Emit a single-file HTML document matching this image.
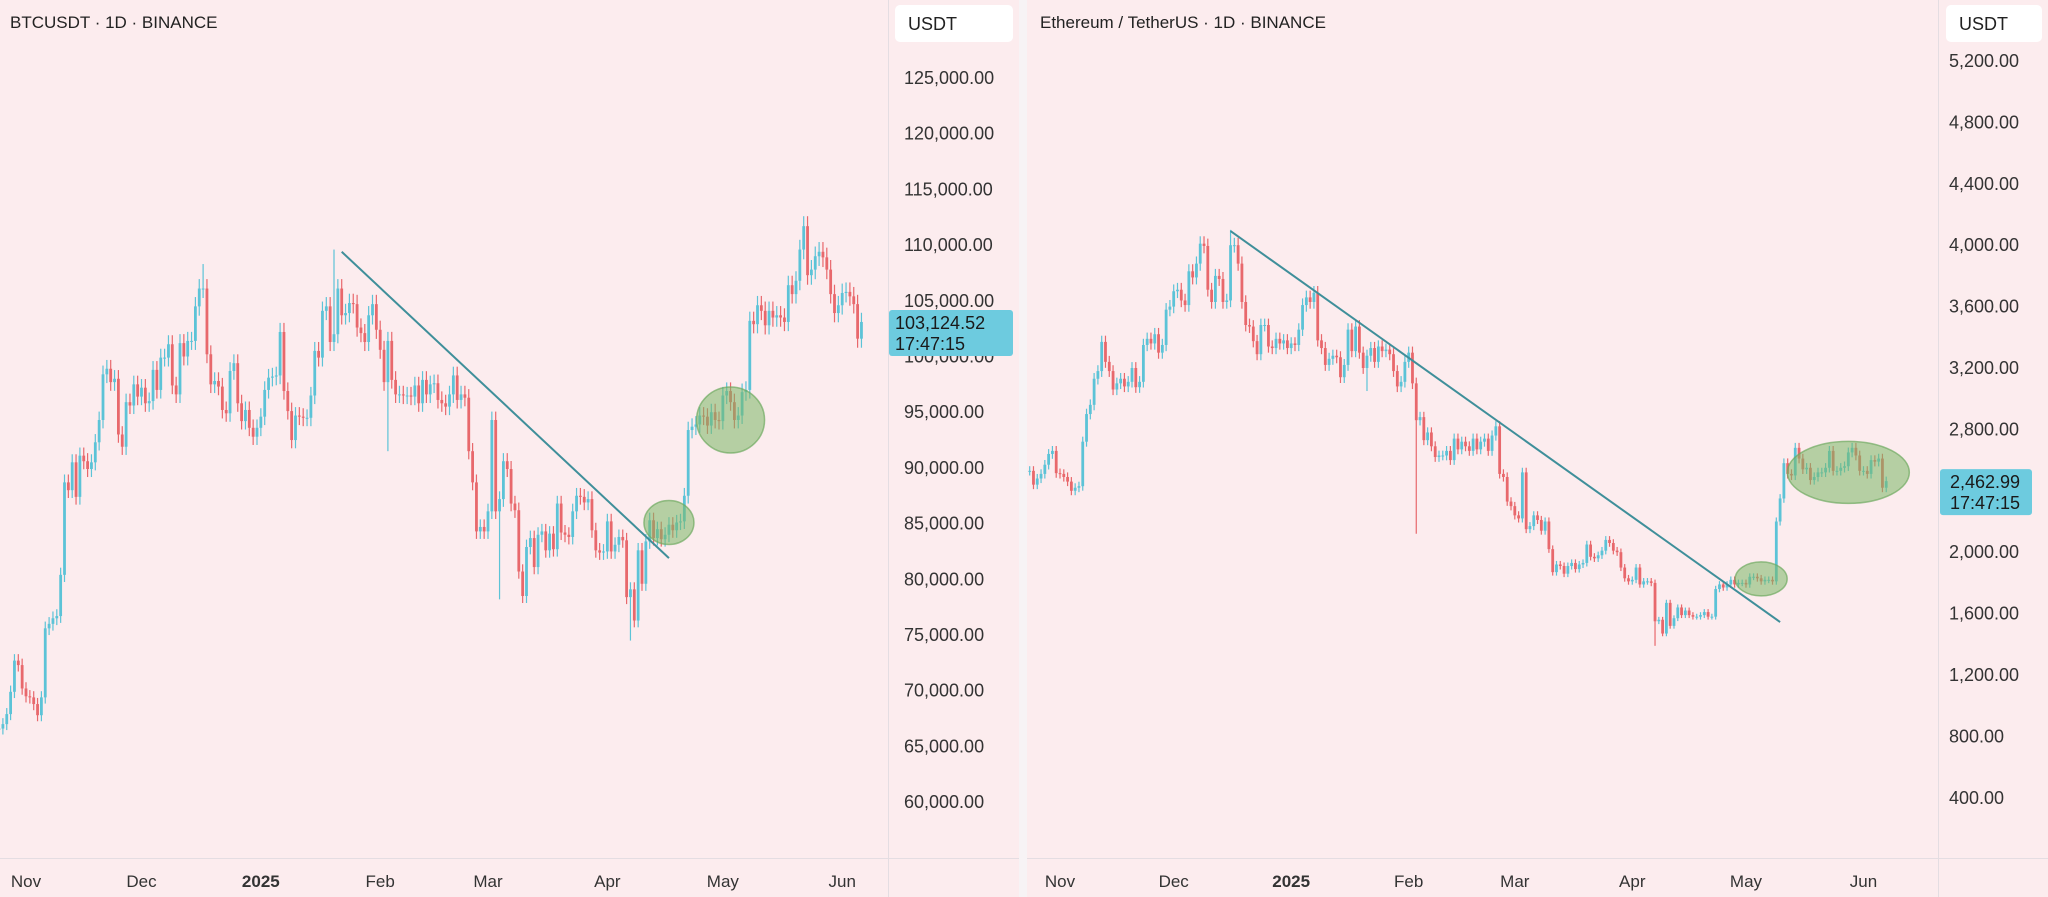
<!DOCTYPE html>
<html><head><meta charset="utf-8">
<style>
html,body{margin:0;padding:0;background:#fcecee;}
svg{display:block;font-family:"Liberation Sans",sans-serif;}
</style></head>
<body>
<svg id="c" width="2048" height="897" viewBox="0 0 2048 897" xmlns="http://www.w3.org/2000/svg">
<rect x="0" y="0" width="2048" height="897" fill="#fcecee"/>
<rect x="1019" y="0" width="8" height="897" fill="#f7f3f5"/>
<line x1="888.5" y1="0" x2="888.5" y2="897" stroke="#e4dde2"/>
<line x1="1938.5" y1="0" x2="1938.5" y2="897" stroke="#e4dde2"/>
<line x1="0" y1="858.5" x2="1019" y2="858.5" stroke="#e4dde2"/>
<line x1="1027" y1="858.5" x2="2048" y2="858.5" stroke="#e4dde2"/>
<g id="btc"></g>
<g id="eth"></g>
<text x="10" y="28" font-size="17" fill="#222">BTCUSDT · 1D · BINANCE</text>
<text x="1040" y="28" font-size="17" fill="#222">Ethereum / TetherUS · 1D · BINANCE</text>
<rect x="895" y="5" width="118" height="37" rx="5" fill="#ffffff"/>
<text x="908" y="30" font-size="18" fill="#222">USDT</text>
<rect x="1946" y="5" width="96" height="37" rx="5" fill="#ffffff"/>
<text x="1959" y="30" font-size="18" fill="#222">USDT</text>
</svg>
<script>
// ---- BTC data (daily closes, thousands USDT, starting Oct 25 2024) ----
const btcCloses = [66.6,67.0,67.9,69.9,72.7,72.3,70.2,
69.5,69.4,68.8,67.8,69.4,75.6,76.0,76.5,76.7,80.4,88.7,88.0,90.5,87.4,91.1,90.6,89.9,90.5,92.3,94.3,98.4,98.9,97.7,98.0,93.0,91.9,95.9,95.6,97.5,96.4,
97.2,95.8,96.0,98.8,97.0,99.9,99.9,101.1,97.4,96.6,101.2,100.0,101.4,101.4,104.5,106.1,106.1,100.2,97.5,97.8,97.3,95.2,94.9,98.7,99.4,95.8,94.2,95.2,93.6,92.8,93.6,
94.6,97.0,98.1,98.2,98.3,102.2,96.9,95.1,92.5,94.7,94.6,94.5,94.5,96.5,100.5,99.9,104.1,104.5,101.3,102.0,106.1,103.7,103.9,104.8,104.7,102.6,102.1,101.3,103.7,104.7,102.4,
100.6,97.7,101.4,97.9,96.6,96.6,96.5,96.5,96.4,97.4,95.8,97.9,96.6,97.5,97.6,96.1,95.8,95.5,96.6,98.3,96.1,96.6,96.3,91.5,88.7,84.3,84.7,84.3,
86.1,94.3,86.1,87.2,90.6,89.9,86.8,86.2,80.7,78.5,82.9,83.7,81.1,84.0,84.3,82.6,84.1,82.7,86.8,84.2,84.0,83.8,86.1,87.5,87.4,86.9,87.2,84.4,82.6,82.4,82.5,
85.2,82.5,83.1,83.8,83.5,78.4,79.1,76.3,82.6,79.6,83.4,85.3,83.7,84.5,83.6,84.0,84.9,84.4,85.1,85.2,87.5,93.4,93.7,93.9,94.7,94.6,93.8,95.0,94.3,94.2,
96.5,96.9,95.9,94.3,94.7,96.8,97.0,103.2,102.9,104.6,104.1,102.8,104.1,103.5,103.7,103.5,103.1,106.4,105.6,106.8,109.6,111.7,107.3,107.8,109.0,109.4,108.9,107.8,105.6,103.9,104.6,
105.7,105.8,105.4,104.7,101.6,103.1];
const btcSpikes = [[46,108.3],[80,109.6],[94,91.5],[123,78.2],[157,74.5],[202,111.9]];
const btcYTicks = [125,120,115,110,105,100,95,90,85,80,75,70,65,60];
const btcTickLabels = ["125,000.00","120,000.00","115,000.00","110,000.00","105,000.00","100,000.00","95,000.00","90,000.00","85,000.00","80,000.00","75,000.00","70,000.00","65,000.00","60,000.00"];
const btcTrend = [[82,109.4],[167,81.9]];
const btcCircles = [[167,85.1,25,22],[183,94.3,34,33]];
// ---- ETH data (daily closes, USDT, starting Oct 24 2024) ----
const ethCloses = [2530,2440,2480,2510,2570,2640,2660,2515,
2510,2490,2460,2400,2420,2430,2720,2900,2960,3130,3180,3370,3240,3180,3060,3100,3130,3080,3110,3200,3075,3110,3350,3390,3360,3420,3300,3350,3580,3600,3700,
3710,3640,3610,3830,3790,3880,4010,3995,3710,3630,3800,3780,3630,3640,4000,4000,3880,3630,3480,3470,3375,3290,3480,3480,3340,3330,3390,3360,3380,3330,3360,
3350,3450,3610,3660,3630,3690,3380,3330,3220,3260,3280,3270,3140,3220,3450,3310,3470,3300,3200,3280,3330,3240,3340,3310,3320,3290,3180,3080,3110,3240,3300,
3100,2860,2880,2730,2780,2690,2620,2630,2630,2660,2600,2740,2670,2720,2690,2660,2740,2670,2720,2740,2660,2760,2820,2510,2490,2330,2300,2240,
2220,2520,2150,2170,2240,2210,2140,2200,2020,1870,1920,1910,1860,1910,1930,1890,1920,1930,2050,1970,1960,1980,2010,2080,2060,2010,2000,1900,1830,1810,1820,
1900,1790,1810,1810,1800,1550,1560,1470,1670,1520,1570,1640,1590,1620,1590,1580,1580,1590,1610,1580,1580,1760,1790,1770,1790,1820,1790,1800,1800,1790,
1840,1840,1830,1810,1820,1820,1810,2200,2350,2580,2510,2500,2680,2610,2540,2550,2470,2490,2520,2520,2550,2660,2530,2530,2550,2560,2650,2680,2630,2530,2530,
2510,2600,2590,2610,2420,2463];
const ethSpikes = [[45,4100],[94,2120],[81,3050],[157,1390]];
const ethYTicks = [5200,4800,4400,4000,3600,3200,2800,2400,2000,1600,1200,800,400];
const ethTickLabels = ["5,200.00","4,800.00","4,400.00","4,000.00","3,600.00","3,200.00","2,800.00","2,400.00","2,000.00","1,600.00","1,200.00","800.00","400.00"];
const ethTrend = [[45,4092],[190,1545]];
const ethCircles = [[185,1826,26,17],[208,2520,61,31]];
// ---- time axis ----
const monthLabels = ["Nov","Dec","2025","Feb","Mar","Apr","May","Jun"];
const monthDays = [0,30,61,92,120,151,181,212]; // days since Nov 1

const NS="http://www.w3.org/2000/svg";
function mk(tag, attrs, parent){const e=document.createElementNS(NS,tag);for(const k in attrs)e.setAttribute(k,attrs[k]);parent.appendChild(e);return e;}

function drawPanel(g, cfg){
  const xOf = d => cfg.x0 + d*cfg.pxDay;
  const yOf = p => cfg.yTop + (cfg.pTop - p)/cfg.pStep*cfg.yStep;
  cfg.ticks.forEach((t,i)=>{
    const tx = mk('text',{x:cfg.tickX,y:yOf(t)+6,'font-size':18,fill:'#333'},g);
    tx.textContent = cfg.tickLabels[i];
    
    
  });
  monthLabels.forEach((m,i)=>{
    const tx = mk('text',{x:xOf(monthDays[i]),y:887,'font-size':17,fill:'#333','text-anchor':'middle','font-weight':m==='2025'?'bold':'normal'},g);
    tx.textContent = m;
    
    
  });
  const closes = cfg.closes;
  const spikeMap = {};
  cfg.spikes.forEach(s=>{spikeMap[s[0]]=s[1];});
  closes.forEach((c,i)=>{
    const o = i>0 ? closes[i-1] : c;
    let hi = Math.max(o,c)*(1+cfg.wick), lo = Math.min(o,c)*(1-cfg.wick);
    const d = i + cfg.startOffset;
    if (spikeMap[d]!==undefined){ const s=spikeMap[d]; if(s>hi) hi=s; if(s<lo) lo=s; }
    const x = xOf(d);
    const col = c>=o ? '#5cc3d7' : '#e8686c';
    const w = mk('line',{x1:x,x2:x,y1:yOf(hi),y2:yOf(lo),stroke:col,'stroke-width':1.2},g);
    
    
    const yt = yOf(Math.max(o,c)), yb = yOf(Math.min(o,c));
    const b = mk('rect',{x:x-1.4,y:yt,width:2.8,height:Math.max(1,yb-yt),fill:col},g);
    
    
  });
  const tl = mk('line',{x1:xOf(cfg.trend[0][0]),y1:yOf(cfg.trend[0][1]),x2:xOf(cfg.trend[1][0]),y2:yOf(cfg.trend[1][1]),stroke:'#3f8f9a','stroke-width':2},g);
  
  
  cfg.circles.forEach(cc=>{
    const e = mk('ellipse',{cx:xOf(cc[0]),cy:yOf(cc[1]),rx:cc[2],ry:cc[3],fill:'rgba(122,184,102,0.55)',stroke:'rgba(110,170,95,0.7)','stroke-width':1.5},g);
    
    
  });
  const last = closes[closes.length-1];
  const ly = yOf(last);
  const r = mk('rect',{x:cfg.labX,y:ly-12,width:cfg.labW,height:46,rx:3,fill:'#6dcbdf'},g);
  
  
  const t1 = mk('text',{x:cfg.labX+cfg.labPad,y:ly+7,'font-size':18,fill:'#1a1a1a'},g);
  t1.textContent = cfg.lastText;
  
  
  const t2 = mk('text',{x:cfg.labX+cfg.labPad,y:ly+28,'font-size':18,fill:'#1a1a1a'},g);
  t2.textContent = '17:47:15';
  
  
}

drawPanel(document.getElementById('btc'),{
  x0:26, pxDay:3.85, yTop:78, pTop:125, pStep:5, yStep:55.7, tickX:904,
  ticks:btcYTicks, tickLabels:btcTickLabels, closes:btcCloses, startOffset:-7,
  spikes:btcSpikes, wick:0.008, trend:btcTrend, circles:btcCircles,
  labX:889, labW:124, labPad:6, lastText:'103,124.52'
});
drawPanel(document.getElementById('eth'),{
  x0:1060, pxDay:3.79, yTop:61, pTop:5200, pStep:400, yStep:61.4, tickX:1949,
  ticks:ethYTicks, tickLabels:ethTickLabels, closes:ethCloses, startOffset:-8,
  spikes:ethSpikes, wick:0.012, trend:ethTrend, circles:ethCircles,
  labX:1940, labW:92, labPad:10, lastText:'2,462.99'
});
</script>
</body></html>
